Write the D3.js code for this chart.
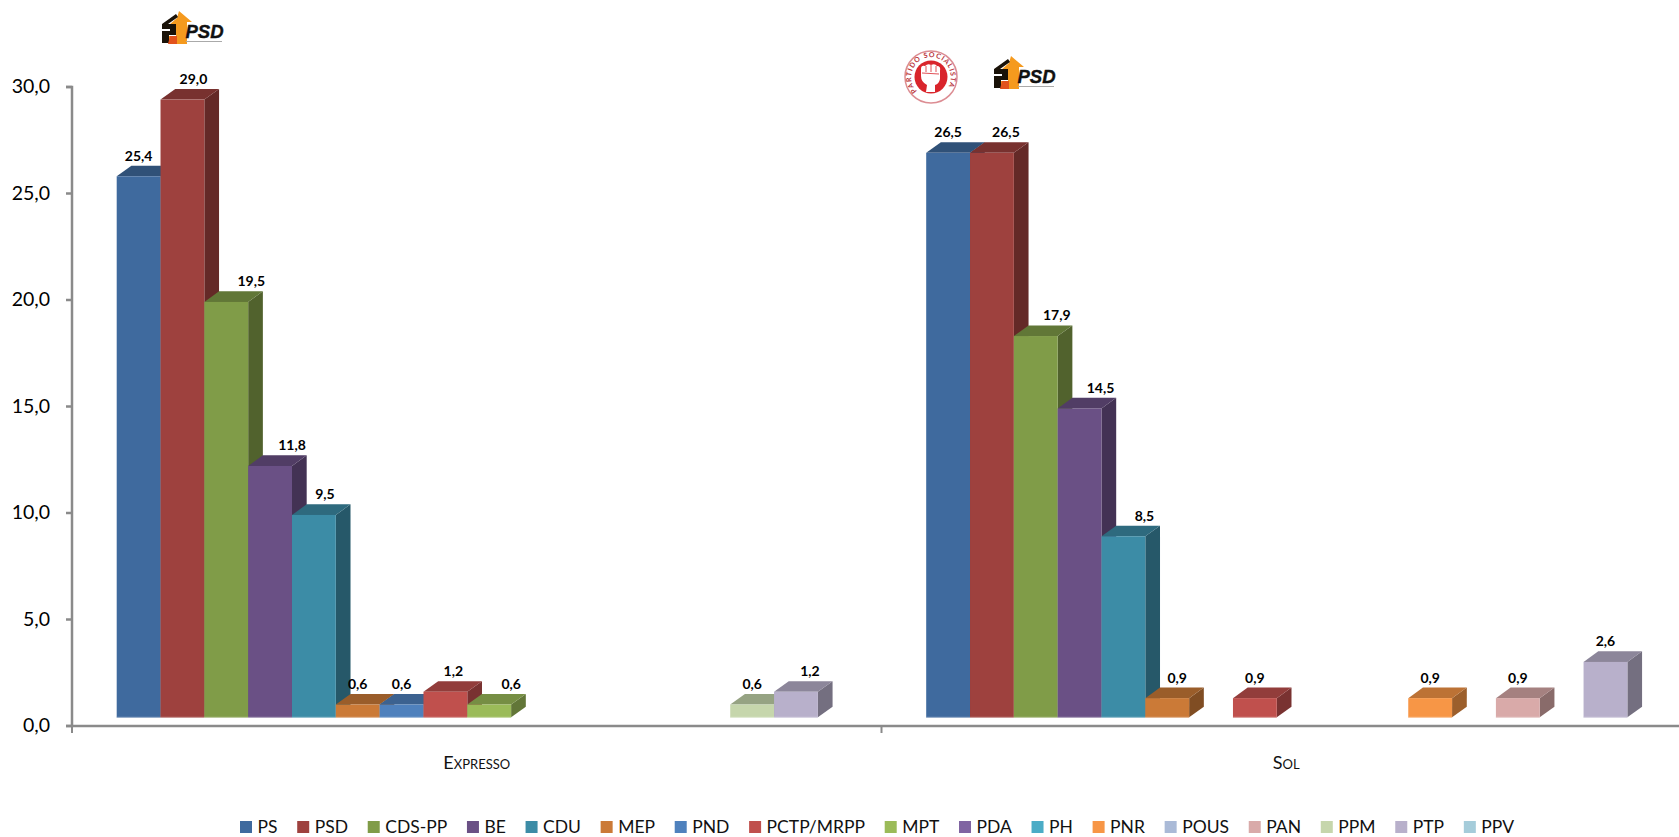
<!DOCTYPE html>
<html>
<head>
	<meta charset="utf-8">
	<title>Sondagens: Expresso e Sol</title>
	<script src="https://d3js.org/d3.v7.min.js"></script>
	<style>
		html, body { margin: 0; padding: 0; background: #fff; overflow: hidden; }
		svg { display: block; font-family: Lato, "Open Sans", sans-serif; }
	</style>
</head>
<body>
<div id="content"></div>

<script type="text/javascript">
	var categories = ['Expresso', 'Sol'];
	var parties = ['PS', 'PSD', 'CDS-PP', 'BE', 'CDU', 'MEP', 'PND', 'PCTP/MRPP', 'MPT', 'PDA', 'PH', 'PNR', 'POUS', 'PAN', 'PPM', 'PTP', 'PPV'];
	var partyColors = ['#3f6a9e', '#9e413e', '#809c48', '#6a5085', '#3c8ca6', '#cb7a37', '#4f81bd', '#c0504d', '#9bbb59', '#8064a2', '#4bacc6', '#f79646', '#aabad7', '#d9aaa9', '#c6d6ac', '#b8b0cb', '#a5ccda'];
	var expressoValues = [25.4, 29.0, 19.5, 11.8, 9.5, 0.6, 0.6, 1.2, 0.6, null, null, null, null, null, 0.6, 1.2, null];
	var solValues = [26.5, 26.5, 17.9, 14.5, 8.5, 0.9, null, 0.9, null, null, null, 0.9, null, 0.9, null, 2.6, null];
	var yTicks = [0, 5, 10, 15, 20, 25, 30];

	var width = 1679, height = 837;
	var axisColor = '#8a8a8a';

	var seriesByCategory = { Expresso: expressoValues, Sol: solValues };

	// hand placed label nudges, same as the original chart
	var labelNudge = {
		Expresso: { 'PSD': 11, 'CDS-PP': 25, 'BE': 22, 'CDU': 11, 'PCTP/MRPP': 8, 'MPT': 22, 'PTP': 14 },
		Sol: { 'PSD': 14, 'CDS-PP': 21, 'BE': 21, 'CDU': 21, 'MEP': 10 }
	};

	var svg = d3.select('#content')
		.append('svg')
		.attr('width', width)
		.attr('height', height);

	var comma = d3.formatLocale({ decimal: ',', thousands: '.', grouping: [3], currency: ['', ''] }).format('.1f');

	var y = d3.scaleLinear().domain([0, 30]).range([726, 87]);
	var x0 = d3.scaleBand().domain(categories).range([72, 72 + 2 * 809.5]);
	var x1 = d3.scaleBand().domain(parties).range([44.7, 789.7]);

	// 3d box offsets
	var depthX = 14.7, depthY = 10.6, lift = 8.7;

	function shade(c, k) {
		var r = d3.rgb(c);
		return d3.rgb(r.r * k, r.g * k, r.b * k).formatHex();
	}

	// y axis
	var yAxis = svg.append('g')
		.attr('transform', 'translate(72,0)')
		.call(d3.axisLeft(y).tickValues(yTicks).tickFormat(comma).tickSize(6).tickPadding(16).offset(0));
	yAxis.selectAll('path, line').attr('stroke', axisColor).attr('stroke-width', 2.5);
	yAxis.selectAll('text').attr('font-size', 19.5).attr('font-family', 'Lato').attr('fill', '#000');

	// x axis
	var xAxis = svg.append('g')
		.attr('transform', 'translate(0,726)')
		.call(d3.axisBottom(x0).tickSize(0).tickPadding(30).offset(0));
	xAxis.select('path').attr('stroke', axisColor).attr('stroke-width', 2.5);
	xAxis.selectAll('text')
		.attr('font-size', 18)
		.attr('font-family', 'Lato')
		.attr('fill', '#111')
		.style('font-variant', 'small-caps');

	svg.selectAll('.cat-tick')
		.data(categories)
		.enter()
		.append('line')
		.attr('class', 'cat-tick')
		.attr('x1', d => x0(d))
		.attr('x2', d => x0(d))
		.attr('y1', 726)
		.attr('y2', 733)
		.attr('stroke', axisColor)
		.attr('stroke-width', 2);

	// flat list of boxes, left to right so each one covers the side of the previous
	var boxes = [];
	categories.forEach(function (cat) {
		seriesByCategory[cat].forEach(function (v, i) {
			if (v === null) return;
			boxes.push({ cat: cat, party: parties[i], value: v, color: partyColors[i] });
		});
	});

	var bw = x1.bandwidth();
	var base = y(0) - lift;

	function boxLeft(d) { return x0(d.cat) + x1(d.party); }
	function boxTop(d) { return y(d.value) - lift; }

	var box = svg.selectAll('.box')
		.data(boxes)
		.enter()
		.append('g')
		.attr('class', 'box');

	box.append('path') // side
		.attr('fill', d => shade(d.color, 0.63))
		.attr('d', function (d) {
			var r = boxLeft(d) + bw, t = boxTop(d);
			return 'M' + r + ',' + t + 'L' + (r + depthX) + ',' + (t - depthY) +
				'L' + (r + depthX) + ',' + (base - depthY) + 'L' + r + ',' + base + 'Z';
		});

	box.append('path') // top
		.attr('fill', d => shade(d.color, 0.76))
		.attr('d', function (d) {
			var l = boxLeft(d), t = boxTop(d);
			return 'M' + l + ',' + t + 'L' + (l + depthX) + ',' + (t - depthY) +
				'L' + (l + bw + depthX) + ',' + (t - depthY) + 'L' + (l + bw) + ',' + t + 'Z';
		});

	box.append('rect') // front
		.attr('x', d => boxLeft(d))
		.attr('y', d => boxTop(d))
		.attr('width', bw)
		.attr('height', d => base - boxTop(d))
		.attr('fill', d => d.color);

	box.append('line') // pale lower edge of the box
		.attr('x1', d => boxLeft(d))
		.attr('x2', d => boxLeft(d) + bw)
		.attr('y1', base)
		.attr('y2', base)
		.attr('stroke', d => d3.interpolateRgb(d.color, '#fff')(0.4))
		.attr('stroke-width', 1);

	// labels go on top of all boxes
	svg.selectAll('.val')
		.data(boxes)
		.enter()
		.append('text')
		.attr('class', 'val')
		.attr('x', d => boxLeft(d) + bw / 2 + (labelNudge[d.cat][d.party] || 0))
		.attr('y', d => boxTop(d) - depthY - 5)
		.attr('text-anchor', 'middle')
		.attr('font-size', 14)
		.attr('font-weight', 700)
		.attr('fill', '#000')
		.text(d => comma(d.value));

	// legend, laid out from measured text widths
	var legend = svg.append('g');
	var item = legend.selectAll('g')
		.data(parties)
		.enter()
		.append('g');
	item.append('rect')
		.attr('width', 12)
		.attr('height', 12)
		.attr('y', 821)
		.attr('fill', (d, i) => partyColors[i]);
	item.append('text')
		.attr('x', 17.5)
		.attr('y', 833)
		.attr('font-size', 17.5)
		.attr('fill', '#111')
		.text(d => d);

	var cursor = 240;
	item.each(function () {
		var g = d3.select(this);
		g.attr('transform', 'translate(' + cursor + ',0)');
		cursor += 17.5 + g.select('text').node().getComputedTextLength() + 19.7;
	});

	// party logos above the leading bars
	function psdLogo(px, py) {
		var g = svg.append('g').attr('transform', 'translate(' + px + ',' + py + ')');
		g.append('path').attr('fill', '#f59a1e').attr('d', 'M17,0L30,11L25,11L25,33L7,33L7,25L14,25L14,14L7,14L15,7Z');
		g.append('path').attr('fill', '#1a1208').attr('d', 'M0,13L14,3L16,6L6,13L14,13L14,24L7,24L7,32L0,32L0,20L8,20L8,18L0,18Z');
		g.append('path').attr('fill', '#e2521c').attr('d', 'M8,25L15,25L15,33L6,33Z');
		g.append('text')
			.attr('x', 23.5)
			.attr('y', 27.3)
			.attr('font-family', 'Liberation Sans')
			.attr('font-size', 18.5)
			.attr('font-weight', 700)
			.attr('font-style', 'italic')
			.attr('fill', '#111')
			.attr('stroke', '#111')
			.attr('stroke-width', 0.4)
			.text('PSD');
		g.append('line')
			.attr('x1', 24).attr('x2', 60)
			.attr('y1', 30.5).attr('y2', 30.5)
			.attr('stroke', '#aaa')
			.attr('stroke-width', 1);
	}

	function psLogo(cx, cy) {
		var g = svg.append('g').attr('transform', 'translate(' + cx + ',' + cy + ')');
		g.append('circle').attr('r', 26).attr('fill', '#fff').attr('stroke', '#dc8d93').attr('stroke-width', 1.5);
		g.append('circle').attr('r', 16.5).attr('fill', '#d9252c');
		g.append('defs').append('path')
			.attr('id', 'ps-ring')
			.attr('d', 'M-14,14A19.8,19.8 0 1,1 14,14');
		g.append('text')
			.attr('font-size', 7)
			.attr('font-weight', 700)
			.attr('fill', '#b8323a')
			.attr('letter-spacing', 0.9)
			.append('textPath')
			.attr('href', '#ps-ring')
			.text('PARTIDO SOCIALISTA');
		// fist
		g.append('path').attr('fill', '#fff')
			.attr('d', 'M-10,-8Q-10,-12 -6,-11Q-3,-14 0,-12Q4,-14 6,-11Q10,-11 9,-6L9,2Q8,7 4,8L4,15L-5,15L-4,8Q-10,5 -10,-1Z');
		g.append('path').attr('fill', 'none').attr('stroke', '#d9252c').attr('stroke-width', 0.8)
			.attr('d', 'M-5,-11L-5,-5M0,-12L0,-5M5,-11L5,-5M-9,-4L8,-3');
	}

	psdLogo(162, 11);
	psdLogo(994, 56);
	psLogo(931, 77);
</script>
</body>
</html>
